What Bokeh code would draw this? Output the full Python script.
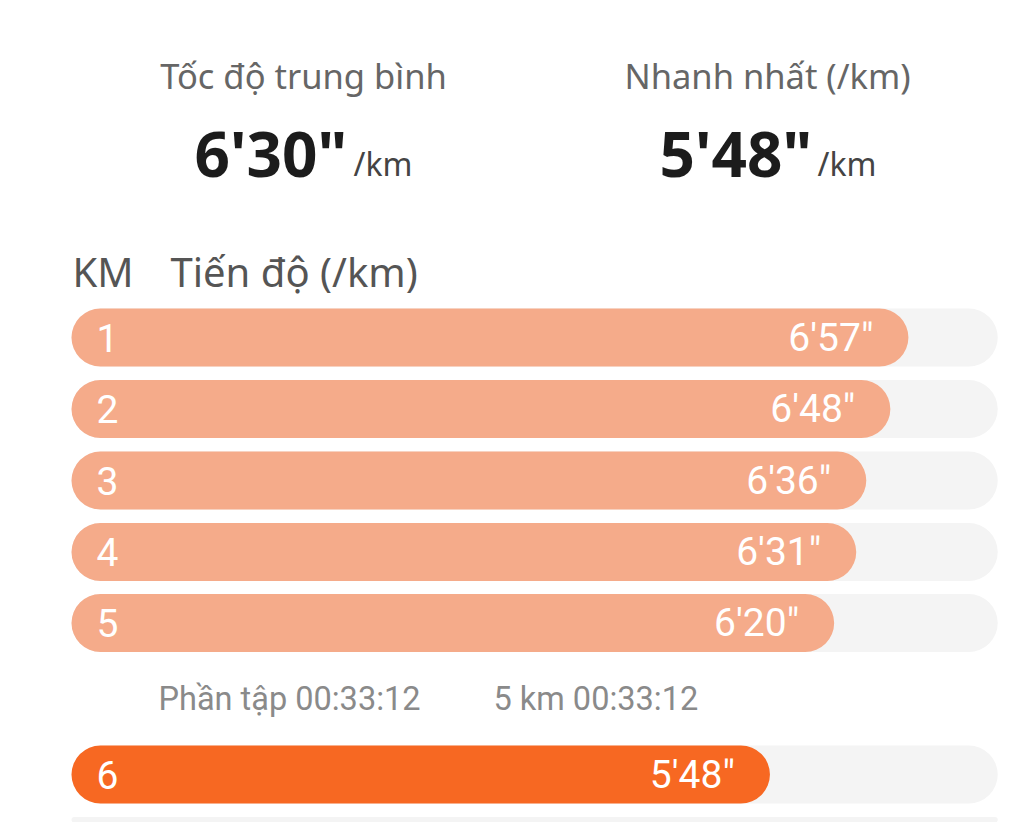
from bokeh.plotting import figure
from bokeh.models import Range1d, ColumnDataSource
from bokeh.core.properties import value
from bokeh.embed import file_html
from bokeh.resources import INLINE

# ---- data ----
km_labels = ["1", "2", "3", "4", "5", "6"]
pace_seconds = [417, 408, 396, 391, 380, 348]
pace_labels = ["6'57\"", "6'48\"", "6'36\"", "6'31\"", "6'20\"", "5'48\""]
fastest_index = 5
avg_pace = "6'30\""
fastest_pace = "5'48\""
split_label = "Phần tập 00:33:12"
split_dist_label = "5 km 00:33:12"
header_avg = "Tốc độ trung bình"
header_fast = "Nhanh nhất (/km)"
col_km = "KM"
col_pace = "Tiến độ (/km)"
unit = "/km"
track_max = 461.5  # full-track pace extent (seconds)

# ---- layout (pixels) ----
W, H = 1024, 822
X0 = 71
SCALE = 2.007
row_y = [337, 408.5, 480, 551.5, 622.5, 774]
extra_track_y = [845.5]
BAR_H = 58
RADIUS = 29

p = figure(width=W, height=H, output_backend="svg", toolbar_location=None,
           x_range=Range1d(-X0 / SCALE, (W - X0) / SCALE),
           y_range=Range1d(H, 0), min_border=0, outline_line_color=None)
p.extra_x_ranges = {"px": Range1d(0, W)}
p.axis.visible = False
p.grid.visible = False
p.background_fill_color = "white"
p.border_fill_color = "white"

# tracks
track_src = ColumnDataSource(dict(y=row_y + extra_track_y,
                                  right=[track_max] * (len(row_y) + 1)))
p.hbar(y="y", left=0, right="right", height=BAR_H, source=track_src,
       fill_color="#F4F4F4", line_color=None, border_radius=RADIUS)

colors = ["#F76822" if i == fastest_index else "#F5AB8A" for i in range(len(km_labels))]
bar_src = ColumnDataSource(dict(y=row_y, right=pace_seconds, color=colors,
                                km=km_labels, lab=pace_labels,
                                lab_x=[s - 35 / SCALE for s in pace_seconds]))
p.hbar(y="y", left=0, right="right", height=BAR_H, source=bar_src,
       fill_color="color", line_color=None, border_radius=RADIUS)

FONT = value("Noto Sans")
NUMFONT = value("Roboto")

p.text(x=25 / SCALE, y="y", text="km", source=bar_src, text_color="white",
       text_font=NUMFONT, text_font_size="39px", text_baseline="middle",
       text_align="left")
p.text(x="lab_x", y="y", text="lab", source=bar_src, text_color="white",
       text_font=NUMFONT, text_font_size="39px", text_baseline="middle",
       text_align="right")

# headers
p.text(x=[303, 767], y=[75, 75], text=[header_avg, header_fast], x_range_name="px",
       text_color="#666666", text_font=FONT, text_font_size="34.5px",
       text_baseline="alphabetic", text_align="center")
p.text(x=[194, 659], y=[152, 152], text=[avg_pace, fastest_pace], x_range_name="px",
       text_color="#1c1c1c", text_font=FONT, text_font_size="62px",
       text_font_style="bold", text_baseline="alphabetic", text_align="left")
p.text(x=[353, 817], y=[163, 163], text=[unit, unit], x_range_name="px",
       text_color="#444444", text_font=FONT, text_font_size="32px",
       text_baseline="alphabetic", text_align="left")
p.text(x=[72, 170], y=[271, 271], text=[col_km, col_pace], x_range_name="px",
       text_color="#555555", text_font=FONT, text_font_size="40px",
       text_baseline="alphabetic", text_align="left")
p.text(x=[158, 493], y=[698, 698], text=[split_label, split_dist_label], x_range_name="px",
       text_color="#8a8a8a", text_font=NUMFONT, text_font_size="32.5px",
       text_baseline="middle", text_align="left")

open("out.html", "w").write(file_html(p, INLINE))
